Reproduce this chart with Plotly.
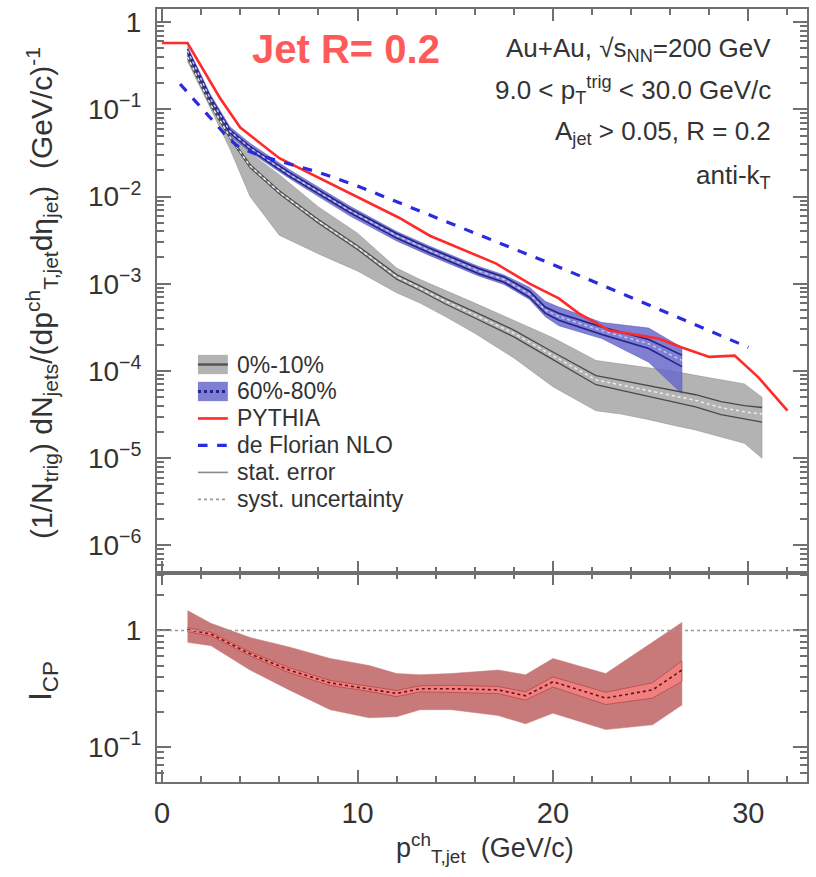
import plotly.graph_objects as go
from plotly.subplots import make_subplots

# ---------------- data ----------------
# PYTHIA
pythia_x = [0.0, 1.3, 2.96, 4.0, 6.0, 8.6, 9.6, 12.1, 13.7, 17.1, 18.8, 20.3, 21.3, 22.9, 25.4, 26.6, 28.0, 29.3, 30.5, 32.0]
pythia_y = [0.575, 0.575, 0.135, 0.0617, 0.0275, 0.0141, 0.0107, 0.00575, 0.00355, 0.0017, 0.0010,
            6.8e-4, 4.6e-4, 2.9e-4, 2.35e-4, 1.86e-4, 1.45e-4, 1.5e-4, 8.5e-5, 3.5e-5]

# de Florian NLO
nlo_x = [0.92, 2.0, 3.0, 3.5, 4.0, 5.0, 6.0, 8.0, 10.0, 15.0, 20.0, 25.0, 30.0]
nlo_y = [0.195, 0.105, 0.059, 0.044, 0.036, 0.0295, 0.0255, 0.019, 0.0132, 0.0047, 0.00166, 5.6e-4, 1.86e-4]

# 60%-80%
p60_x = [1.3, 2.45, 3.47, 4.5, 6.5, 8.6, 9.6, 12.0, 13.7, 16.2, 17.5, 18.8, 19.6, 20.3, 22.5, 24.9, 26.6]
p60_y = [0.47, 0.135, 0.056, 0.036, 0.018, 0.0095, 0.0069, 0.00355, 0.0024, 0.0014, 0.00112,
         7.6e-4, 5.0e-4, 4.2e-4, 2.9e-4, 2.05e-4, 1.32e-4]
p60_sys_hi = [0.525, 0.151, 0.063, 0.0407, 0.0204, 0.0107, 0.00776, 0.00398, 0.00269, 0.00158, 0.00126,
              9.1e-4, 6.3e-4, 5.4e-4, 3.6e-4, 3.1e-4, 1.86e-4]
p60_sys_lo = [0.417, 0.120, 0.050, 0.0324, 0.0162, 0.0083, 0.0060, 0.0031, 0.0021, 0.00123, 9.8e-4,
              6.6e-4, 4.2e-4, 3.3e-4, 2.35e-4, 1.26e-4, 5.5e-5]
p60_stat_rel = [0.04, 0.04, 0.04, 0.04, 0.05, 0.05, 0.05, 0.06, 0.06, 0.07, 0.07, 0.08, 0.08, 0.09, 0.10, 0.12, 0.15]

# 0%-10%
c0_x = [1.3, 2.5, 3.5, 4.5, 6.0, 8.0, 10.0, 12.0, 13.2, 14.5, 16.0, 18.0, 20.0, 21.1, 22.2, 23.5,
        24.8, 26.1, 27.3, 28.6, 29.8, 30.7]
c0_y = [0.40, 0.112, 0.047, 0.0224, 0.0112, 0.0052, 0.0026, 0.0012, 8.9e-4, 6.3e-4, 4.4e-4, 2.7e-4,
        1.5e-4, 1.1e-4, 7.9e-5, 6.9e-5, 6.0e-5, 5.2e-5, 4.6e-5, 3.8e-5, 3.4e-5, 3.2e-5]
c0_sys_hi = [0.447, 0.126, 0.0537, 0.0316, 0.0178, 0.00759, 0.0038, 0.00151, 0.00112, 8.3e-4, 6.0e-4,
             3.8e-4, 2.4e-4, 1.78e-4, 1.32e-4, 1.2e-4, 1.1e-4, 1.0e-4, 8.9e-5, 7.9e-5, 7.1e-5, 5.0e-5]
c0_sys_lo = [0.355, 0.100, 0.034, 0.0100, 0.0036, 0.0022, 0.0014, 7.9e-4, 6.0e-4, 4.2e-4, 2.7e-4,
             1.41e-4, 6.6e-5, 4.8e-5, 3.5e-5, 3.2e-5, 2.8e-5, 2.4e-5, 2.1e-5, 1.74e-5, 1.48e-5, 1.0e-5]
c0_stat_rel = [0.03, 0.03, 0.03, 0.04, 0.04, 0.05, 0.05, 0.06, 0.06, 0.07, 0.08, 0.09, 0.10, 0.11,
               0.12, 0.13, 0.14, 0.15, 0.16, 0.17, 0.18, 0.19]

# I_CP
icp_x = [1.3, 2.5, 4.5, 6.5, 8.6, 10.6, 12.0, 13.2, 14.8, 17.2, 18.6, 20.0, 22.7, 25.1, 26.6]
icp_y = [1.02, 0.93, 0.63, 0.457, 0.355, 0.316, 0.288, 0.316, 0.316, 0.309, 0.275, 0.363, 0.263, 0.309, 0.457]
icp_sys_hi = [1.48, 1.15, 0.87, 0.72, 0.575, 0.50, 0.427, 0.417, 0.427, 0.457, 0.417, 0.575, 0.427, 0.79, 1.17]
icp_sys_lo = [0.79, 0.74, 0.457, 0.309, 0.209, 0.178, 0.182, 0.209, 0.209, 0.186, 0.158, 0.195, 0.141, 0.155, 0.229]
icp_stat_rel = [0.04, 0.04, 0.04, 0.05, 0.05, 0.05, 0.06, 0.06, 0.07, 0.07, 0.08, 0.10, 0.12, 0.15, 0.20]

top_tickvals = [1, 1e-1, 1e-2, 1e-3, 1e-4, 1e-5, 1e-6]
top_ticktext = ["1", "10<sup>\u22121</sup>", "10<sup>\u22122</sup>", "10<sup>\u22123</sup>",
                "10<sup>\u22124</sup>", "10<sup>\u22125</sup>", "10<sup>\u22126</sup>"]
bot_tickvals = [1, 1e-1]
bot_ticktext = ["1", "10<sup>\u22121</sup>"]
x_tickvals = [0, 10, 20, 30]

legend_labels = ["0%-10%", "60%-80%", "PYTHIA", "de Florian NLO", "stat. error", "syst. uncertainty"]

# ---------------- figure ----------------
FONT = "Liberation Sans, Arial, Helvetica, sans-serif"
TXT = "#333333"
FRAME = "#707070"
GRAY_BAND = "#b3b3b3"
BLUE_BAND = "rgba(105,105,205,0.85)"

fig = make_subplots(rows=2, cols=1, shared_xaxes=True, vertical_spacing=0,
                    row_heights=[0.73, 0.27])


def band(x, lo, hi, color, row, linecolor=None):
    fig.add_trace(go.Scatter(x=list(x) + list(x)[::-1], y=list(hi) + list(lo)[::-1],
                             fill="toself", fillcolor=color, mode="lines",
                             line=dict(color=linecolor or color, width=0.5),
                             showlegend=False, hoverinfo="skip"), row=row, col=1)


def line(x, y, color, width, dash="solid", row=1):
    fig.add_trace(go.Scatter(x=x, y=y, mode="lines", line=dict(color=color, width=width, dash=dash),
                             showlegend=False), row=row, col=1)


# 0-10% band
band(c0_x, c0_sys_lo, c0_sys_hi, GRAY_BAND, 1, linecolor="#8a8a8a")
# 60-80% band
band(p60_x, p60_sys_lo, p60_sys_hi, BLUE_BAND, 1, linecolor="#5050b8")

# stat lines 0-10%
c0_st_hi = [v * (1 + e) for v, e in zip(c0_y, c0_stat_rel)]
c0_st_lo = [v * (1 - e) for v, e in zip(c0_y, c0_stat_rel)]
line(c0_x, c0_st_hi, "#4a4a4a", 1.3)
line(c0_x, c0_st_lo, "#4a4a4a", 1.3)
line(c0_x, c0_y, "#eeeeee", 1.5, dash="dot")

# stat lines 60-80%
p60_st_hi = [v * (1 + e) for v, e in zip(p60_y, p60_stat_rel)]
p60_st_lo = [v * (1 - e) for v, e in zip(p60_y, p60_stat_rel)]
line(p60_x, p60_st_hi, "#22228a", 1.6)
line(p60_x, p60_st_lo, "#22228a", 1.6)
line(p60_x, p60_y, "#c8c8f0", 1.5, dash="dot")

# PYTHIA and NLO
line(pythia_x, pythia_y, "#ff2a2a", 2.6)
line(nlo_x, nlo_y, "#2a2ae0", 3.2, dash="dash")

# I_CP
band(icp_x, icp_sys_lo, icp_sys_hi, "#c87a7a", 2)
icp_st_hi = [v * (1 + e) for v, e in zip(icp_y, icp_stat_rel)]
icp_st_lo = [v * (1 - e) for v, e in zip(icp_y, icp_stat_rel)]
band(icp_x, icp_st_lo, icp_st_hi, "#f08080", 2, linecolor="#a02828")
line(icp_x, icp_y, "#6a1010", 1.6, dash="dot", row=2)

fig.add_hline(y=1, line=dict(color="#9a9a9a", width=1.5, dash="dot"), row=2, col=1)

# axes
minor_log_top = [m * 10.0 ** e for e in range(-7, 1) for m in range(2, 10)]
minor_log_bot = [m * 10.0 ** e for e in range(-2, 1) for m in range(2, 10)]

common_axis = dict(showgrid=False, zeroline=False, showline=True, linecolor=FRAME, linewidth=2,
                   mirror="ticks", ticks="inside", tickcolor=FRAME, tickwidth=1.5)

fig.update_xaxes(**common_axis, range=[-0.26, 33.0], tickvals=x_tickvals, ticklen=12,
                 tickfont=dict(family=FONT, size=29, color=TXT), ticklabelstandoff=4,
                 minor=dict(dtick=2, tick0=0, ticks="inside", ticklen=6, tickcolor=FRAME))
fig.update_xaxes(showticklabels=False, row=1, col=1)
fig.update_yaxes(**common_axis, type="log", range=[-6.32, 0.15], tickvals=top_tickvals,
                 ticktext=top_ticktext, ticklen=14, ticklabelstandoff=8,
                 tickfont=dict(family=FONT, size=28, color=TXT),
                 minor=dict(tickvals=minor_log_top, ticks="inside", ticklen=7, tickcolor=FRAME),
                 row=1, col=1)
fig.update_yaxes(**common_axis, type="log", range=[-1.3, 0.49], tickvals=bot_tickvals,
                 ticktext=bot_ticktext, ticklen=14, ticklabelstandoff=8,
                 tickfont=dict(family=FONT, size=28, color=TXT),
                 minor=dict(tickvals=minor_log_bot, ticks="inside", ticklen=7, tickcolor=FRAME),
                 row=2, col=1)

fig.update_layout(
    width=816, height=877,
    margin=dict(l=157, r=7, t=8, b=95),
    paper_bgcolor="white", plot_bgcolor="white",
    font=dict(family=FONT, color=TXT),
    showlegend=False,
)

# ---- manual legend (icons + labels) ----
leg_y = [0.5401, 0.5052, 0.4703, 0.4354, 0.4005, 0.3656]
ix0, ix1 = 0.063, 0.109
h = 0.0125
# 0-10% box
fig.add_shape(type="rect", xref="paper", yref="paper", x0=ix0, x1=ix1, y0=leg_y[0] - h, y1=leg_y[0] + h,
              fillcolor=GRAY_BAND, line=dict(width=0))
fig.add_shape(type="line", xref="paper", yref="paper", x0=ix0, x1=ix1, y0=leg_y[0], y1=leg_y[0],
              line=dict(color="#555555", width=2.5))
# 60-80% box
fig.add_shape(type="rect", xref="paper", yref="paper", x0=ix0, x1=ix1, y0=leg_y[1] - h, y1=leg_y[1] + h,
              fillcolor=BLUE_BAND, line=dict(width=0))
fig.add_shape(type="line", xref="paper", yref="paper", x0=ix0, x1=ix1, y0=leg_y[1], y1=leg_y[1],
              line=dict(color="#22228a", width=3, dash="dot"))
# PYTHIA
fig.add_shape(type="line", xref="paper", yref="paper", x0=ix0, x1=ix1, y0=leg_y[2], y1=leg_y[2],
              line=dict(color="#ff2a2a", width=2.6))
# NLO
fig.add_shape(type="line", xref="paper", yref="paper", x0=ix0, x1=ix1, y0=leg_y[3], y1=leg_y[3],
              line=dict(color="#2a2ae0", width=3.2, dash="dash"))
# stat
fig.add_shape(type="line", xref="paper", yref="paper", x0=ix0, x1=ix1, y0=leg_y[4], y1=leg_y[4],
              line=dict(color="#888888", width=1.6))
# syst
fig.add_shape(type="line", xref="paper", yref="paper", x0=ix0, x1=ix1, y0=leg_y[5], y1=leg_y[5],
              line=dict(color="#999999", width=1.6, dash="dot"))
for lab, yy in zip(legend_labels, leg_y):
    fig.add_annotation(text=lab, x=0.1196, y=yy, xref="paper", yref="paper", showarrow=False,
                       xanchor="left", yanchor="middle",
                       font=dict(family=FONT, size=23, color=TXT))

ann = [
    dict(text="<b>Jet R= 0.2</b>", x=0.291, y=0.948, font=dict(size=40, color="#ff5a5a")),
    dict(text="Au+Au, \u221as<sub>NN</sub>=200 GeV", x=0.948, y=0.947, xanchor="right",
         font=dict(size=26, color=TXT)),
    dict(text="9.0 < p<sub>T</sub><sup>trig</sup> < 30.0 GeV/c", x=0.948, y=0.895, xanchor="right",
         font=dict(size=26, color=TXT)),
    dict(text="A<sub>jet</sub> > 0.05, R = 0.2", x=0.948, y=0.840, xanchor="right",
         font=dict(size=26, color=TXT)),
    dict(text="anti-k<sub>T</sub>", x=0.948, y=0.783, xanchor="right", font=dict(size=26, color=TXT)),
    dict(text="(1/N<sub>trig</sub>) dN<sub>jets</sub>/(dp<sup>ch</sup><sub>T,jet</sub>d\u03b7<sub>jet</sub>)"
              "  (GeV/c)<sup>-1</sup>", x=-0.178, y=0.633, textangle=-90,
         font=dict(size=30, color=TXT)),
    dict(text="I<sub>CP</sub>", x=-0.176, y=0.13, textangle=-90, font=dict(size=32, color=TXT)),
    dict(text="p<sup>ch</sup><sub>T,jet</sub>  (GeV/c)", x=0.505, y=-0.085,
         font=dict(size=27, color=TXT)),
]
for a in ann:
    a.update(xref="paper", yref="paper", showarrow=False, yanchor="middle")
    a.setdefault("xanchor", "center")
    a["font"]["family"] = FONT
    fig.add_annotation(**a)

fig.write_html("out.html")
